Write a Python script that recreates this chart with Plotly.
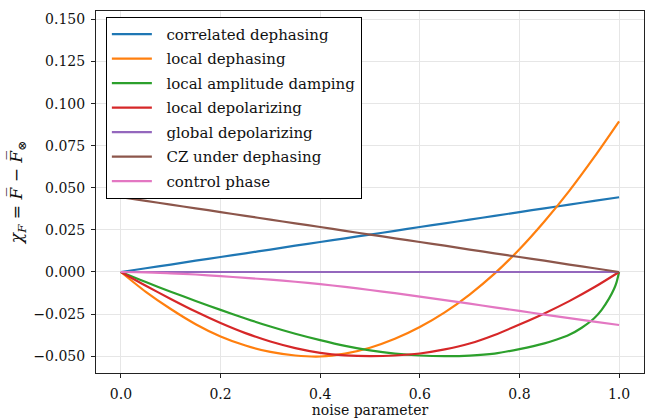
import plotly.graph_objects as go

# noise parameter grid (uniform)
p = [0.0, 0.05, 0.1, 0.15, 0.2, 0.25, 0.3, 0.35, 0.4, 0.45, 0.5, 0.55, 0.6, 0.65,
     0.7, 0.75, 0.8, 0.85, 0.9, 0.95, 1.0]
# denser grid near p = 1 for the amplitude-damping curve (vertical tangent)
p_ad = [0.0, 0.05, 0.1, 0.15, 0.2, 0.25, 0.3, 0.35, 0.4, 0.45, 0.5, 0.55, 0.6, 0.65,
        0.7, 0.75, 0.8, 0.85, 0.875, 0.9, 0.925, 0.95, 0.965, 0.98, 0.99, 0.995, 1.0]

correlated_dephasing = [0.0, 0.0022, 0.0044, 0.0067, 0.0089, 0.0111, 0.0133, 0.0156, 0.0178,
                        0.0200, 0.0222, 0.0244, 0.0267, 0.0289, 0.0311, 0.0333, 0.0356,
                        0.0378, 0.0400, 0.0422, 0.0444]
local_dephasing = [0.0, -0.0118, -0.0220, -0.0310, -0.0383, -0.0437, -0.0475, -0.0496, -0.0502,
                   -0.0485, -0.0450, -0.0397, -0.0327, -0.0240, -0.0134, -0.0010, 0.0135,
                   0.0300, 0.0482, 0.0682, 0.0895]
local_amplitude_damping = [0.0, -0.0060, -0.0117, -0.0172, -0.0225, -0.0276, -0.0324, -0.0367,
                           -0.0405, -0.0439, -0.0466, -0.0485, -0.0496, -0.0500, -0.0497,
                           -0.0485, -0.0458, -0.0424, -0.0401, -0.0373, -0.0331, -0.0275,
                           -0.0225, -0.0157, -0.0100, -0.0060, 0.0]
local_depolarizing = [0.0, -0.0082, -0.0160, -0.0235, -0.0303, -0.0363, -0.0413, -0.0452,
                      -0.0480, -0.0495, -0.0500, -0.0496, -0.0484, -0.0460, -0.0425, -0.0374,
                      -0.0312, -0.0246, -0.0173, -0.0091, 0.0]
global_depolarizing = [0.0] * 21
cz_under_dephasing = [0.0444, 0.0422, 0.0400, 0.0378, 0.0356, 0.0333, 0.0311, 0.0289, 0.0267,
                      0.0244, 0.0222, 0.0200, 0.0178, 0.0156, 0.0133, 0.0111, 0.0089, 0.0067,
                      0.0044, 0.0022, 0.0]
control_phase = [0.0, -0.0002, -0.0008, -0.0015, -0.0025, -0.0035, -0.0046, -0.0058, -0.0072,
                 -0.0089, -0.0107, -0.0126, -0.0146, -0.0167, -0.0188, -0.0210, -0.0231,
                 -0.0253, -0.0274, -0.0295, -0.0315]

series = [
    ("correlated dephasing", p, correlated_dephasing, "#1f77b4"),
    ("local dephasing", p, local_dephasing, "#ff7f0e"),
    ("local amplitude damping", p_ad, local_amplitude_damping, "#2ca02c"),
    ("local depolarizing", p, local_depolarizing, "#d62728"),
    ("global depolarizing", p, global_depolarizing, "#9467bd"),
    ("CZ under dephasing", p, cz_under_dephasing, "#8c564b"),
    ("control phase", p, control_phase, "#e377c2"),
]

x_ticks = [0.0, 0.2, 0.4, 0.6, 0.8, 1.0]
y_ticks = [-0.050, -0.025, 0.000, 0.025, 0.050, 0.075, 0.100, 0.125, 0.150]

fig = go.Figure()
for i, (name, xs, vals, col) in enumerate(series):
    fig.add_trace(go.Scatter(x=xs, y=vals, mode="lines", name="\u00a0\u00a0" + name,
                             legendgroup=f"g{i}",
                             line=dict(color=col, width=2.2, shape="spline", smoothing=0.8)))

font_family = "DejaVu Serif"
axis_common = dict(showline=True, linecolor="#222", linewidth=1, mirror=True,
                   ticks="outside", ticklen=4, tickcolor="#222", tickwidth=1,
                   showgrid=True, gridcolor="#e6e6e6", gridwidth=1, zeroline=False,
                   tickfont=dict(family=font_family, size=14, color="#111"))

fig.update_layout(
    width=650, height=420,
    margin=dict(l=96, r=6, t=11, b=47),
    paper_bgcolor="white", plot_bgcolor="white",
    font=dict(family=font_family, color="#111"),
    xaxis=dict(range=[-0.05, 1.05], tickvals=x_ticks, tickformat=".1f",
               ticklabelstandoff=4,
               title=dict(text="noise parameter", font=dict(size=14), standoff=0),
               **axis_common),
    yaxis=dict(range=[-0.06, 0.155], tickvals=y_ticks, tickformat=".3f",
               ticklabelstandoff=3,
               title=dict(text="<i>χ<sub>F</sub></i> = <i>F̅</i> − <i>F̅</i><sub>⊗</sub>",
                          font=dict(size=17), standoff=6),
               **axis_common),
    legend=dict(x=0.018, y=0.984, xanchor="left", yanchor="top",
                bgcolor="white", bordercolor="black", borderwidth=1,
                font=dict(family=font_family, size=15), tracegroupgap=2,
                itemwidth=40),
)

fig.write_html("out.html")
